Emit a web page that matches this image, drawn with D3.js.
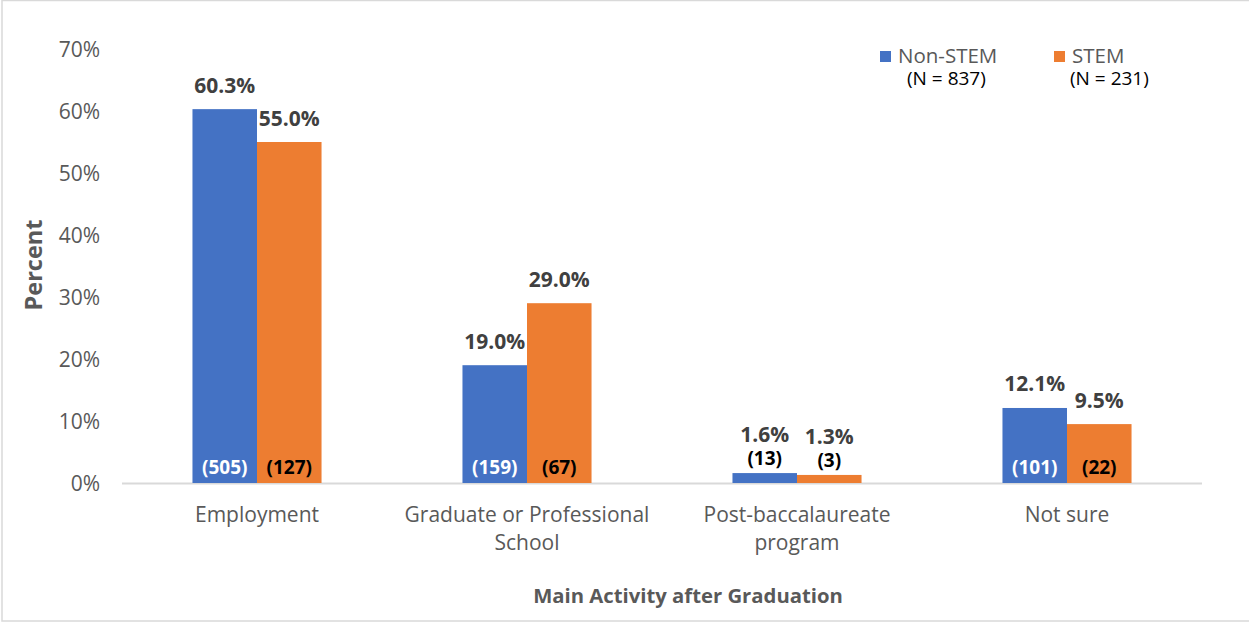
<!DOCTYPE html>
<html>
<head>
<meta charset="utf-8">
<script src="https://cdn.jsdelivr.net/npm/d3@7"></script>
<style>
  body { margin: 0; background: #fff; }
  text { font-family: "Open Sans", Lato, sans-serif; }
</style>
</head>
<body>
<div class="chart"></div>
<script>
// Data
const categories = [['Employment'], ['Graduate or Professional', 'School'], ['Post-baccalaureate', 'program'], ['Not sure']];
const series = ['Non-STEM', 'STEM'];
const seriesN = ['(N = 837)', '(N = 231)'];
const nonStem = [60.3, 19.0, 1.6, 12.1];
const stem = [55.0, 29.0, 1.3, 9.5];
const nonStemCount = [505, 159, 13, 101];
const stemCount = [127, 67, 3, 22];
const yTicks = [0, 10, 20, 30, 40, 50, 60, 70];

const colors = ['#4472c4', '#ed7d31'];
const width = 1249, height = 623;
const plot = { left: 122, right: 1202, top: 49, bottom: 483 };

const rows = categories.map((c, i) => ({
    key: i,
    label: c,
    values: [
        { s: 0, v: nonStem[i], n: nonStemCount[i] },
        { s: 1, v: stem[i], n: stemCount[i] }
    ]
}));

const svg = d3.select('.chart')
    .append('svg')
    .attr('width', width)
    .attr('height', height);

// frame (right edge falls outside the picture)
svg.append('rect')
    .attr('x', 2).attr('y', 0.5)
    .attr('width', width + 10).attr('height', 620.5)
    .attr('fill', '#fff')
    .attr('stroke', '#d9d9d9')
    .attr('stroke-width', 1.5);

const x0 = d3.scaleBand()
    .domain(rows.map(d => d.key))
    .range([plot.left, plot.right])
    .paddingInner(0.522)
    .paddingOuter(0.261);

const x1 = d3.scaleBand()
    .domain([0, 1])
    .range([0, x0.bandwidth()]);

const y = d3.scaleLinear()
    .domain([0, 70])
    .range([plot.bottom, plot.top]);

// y tick labels
svg.append('g')
    .selectAll('text')
    .data(yTicks)
    .enter()
    .append('text')
    .attr('x', 100)
    .attr('y', d => y(d) + 8)
    .attr('text-anchor', 'end')
    .attr('fill', '#595959')
    .style('font-size', '21px')
    .text(d => d + '%');

// baseline
svg.append('line')
    .attr('x1', plot.left).attr('x2', plot.right)
    .attr('y1', y(0) + 0.5).attr('y2', y(0) + 0.5)
    .attr('stroke', '#d9d9d9')
    .attr('stroke-width', 2);

// bars
const groups = svg.append('g')
    .selectAll('.group')
    .data(rows)
    .enter()
    .append('g')
    .attr('class', 'group')
    .attr('transform', d => `translate(${x0(d.key)},0)`);

groups.selectAll('rect')
    .data(d => d.values)
    .enter()
    .append('rect')
    .attr('x', d => x1(d.s))
    .attr('y', d => y(d.v))
    .attr('width', x1.bandwidth())
    .attr('height', d => y(0) - y(d.v))
    .attr('fill', d => colors[d.s]);

// value labels; small bars get their counts stacked above
const small = d => d.v < 5;

groups.selectAll('.val')
    .data(d => d.values)
    .enter()
    .append('text')
    .attr('class', 'val')
    .attr('x', d => x1(d.s) + x1.bandwidth() / 2)
    .attr('y', d => y(d.v) - (small(d) ? 31 : 16.5))
    .attr('text-anchor', 'middle')
    .attr('fill', '#404040')
    .style('font-size', '21px')
    .style('font-weight', 'bold')
    .text(d => d.v.toFixed(1) + '%');

groups.selectAll('.cnt')
    .data(d => d.values)
    .enter()
    .append('text')
    .attr('class', 'cnt')
    .attr('x', d => x1(d.s) + x1.bandwidth() / 2)
    .attr('y', d => small(d) ? y(d.v) - 8 : y(0) - 9)
    .attr('text-anchor', 'middle')
    .attr('fill', d => (d.s === 0 && !small(d)) ? '#ffffff' : '#000000')
    .style('font-size', '19px')
    .style('font-weight', 'bold')
    .text(d => `(${d.n})`);

// category labels
const catText = svg.append('g')
    .selectAll('text')
    .data(rows)
    .enter()
    .append('text')
    .attr('x', d => x0(d.key) + x0.bandwidth() / 2)
    .attr('y', 522)
    .attr('text-anchor', 'middle')
    .attr('fill', '#595959')
    .style('font-size', '21px');

catText.selectAll('tspan')
    .data(d => d.label)
    .enter()
    .append('tspan')
    .attr('x', function () { return d3.select(this.parentNode).attr('x'); })
    .attr('dy', (d, i) => i === 0 ? 0 : 28)
    .text(d => d);

// axis titles
svg.append('text')
    .attr('x', (plot.left + plot.right) / 2 + 26)
    .attr('y', 603)
    .attr('text-anchor', 'middle')
    .attr('fill', '#595959')
    .style('font-size', '20.3px')
    .style('font-weight', 'bold')
    .text('Main Activity after Graduation');

svg.append('text')
    .attr('transform', 'translate(42,265) rotate(-90)')
    .attr('text-anchor', 'middle')
    .attr('fill', '#595959')
    .style('font-size', '23.5px')
    .style('font-weight', 'bold')
    .text('Percent');

// legend
const legendX = [880, 1054];
const legend = svg.append('g')
    .selectAll('g')
    .data(series)
    .enter()
    .append('g')
    .attr('transform', (d, i) => `translate(${legendX[i]},50)`);

legend.append('rect')
    .attr('width', 11).attr('height', 11)
    .attr('y', 1)
    .attr('fill', (d, i) => colors[i]);

legend.append('text')
    .attr('x', 18)
    .attr('y', 13)
    .attr('fill', '#595959')
    .style('font-size', '20.5px')
    .text(d => d);

legend.append('text')
    .attr('x', (d, i) => i === 0 ? 27 : 16)
    .attr('y', 35)
    .attr('fill', '#000000')
    .style('font-size', '19px')
    .text((d, i) => seriesN[i]);
</script>
</body>
</html>
